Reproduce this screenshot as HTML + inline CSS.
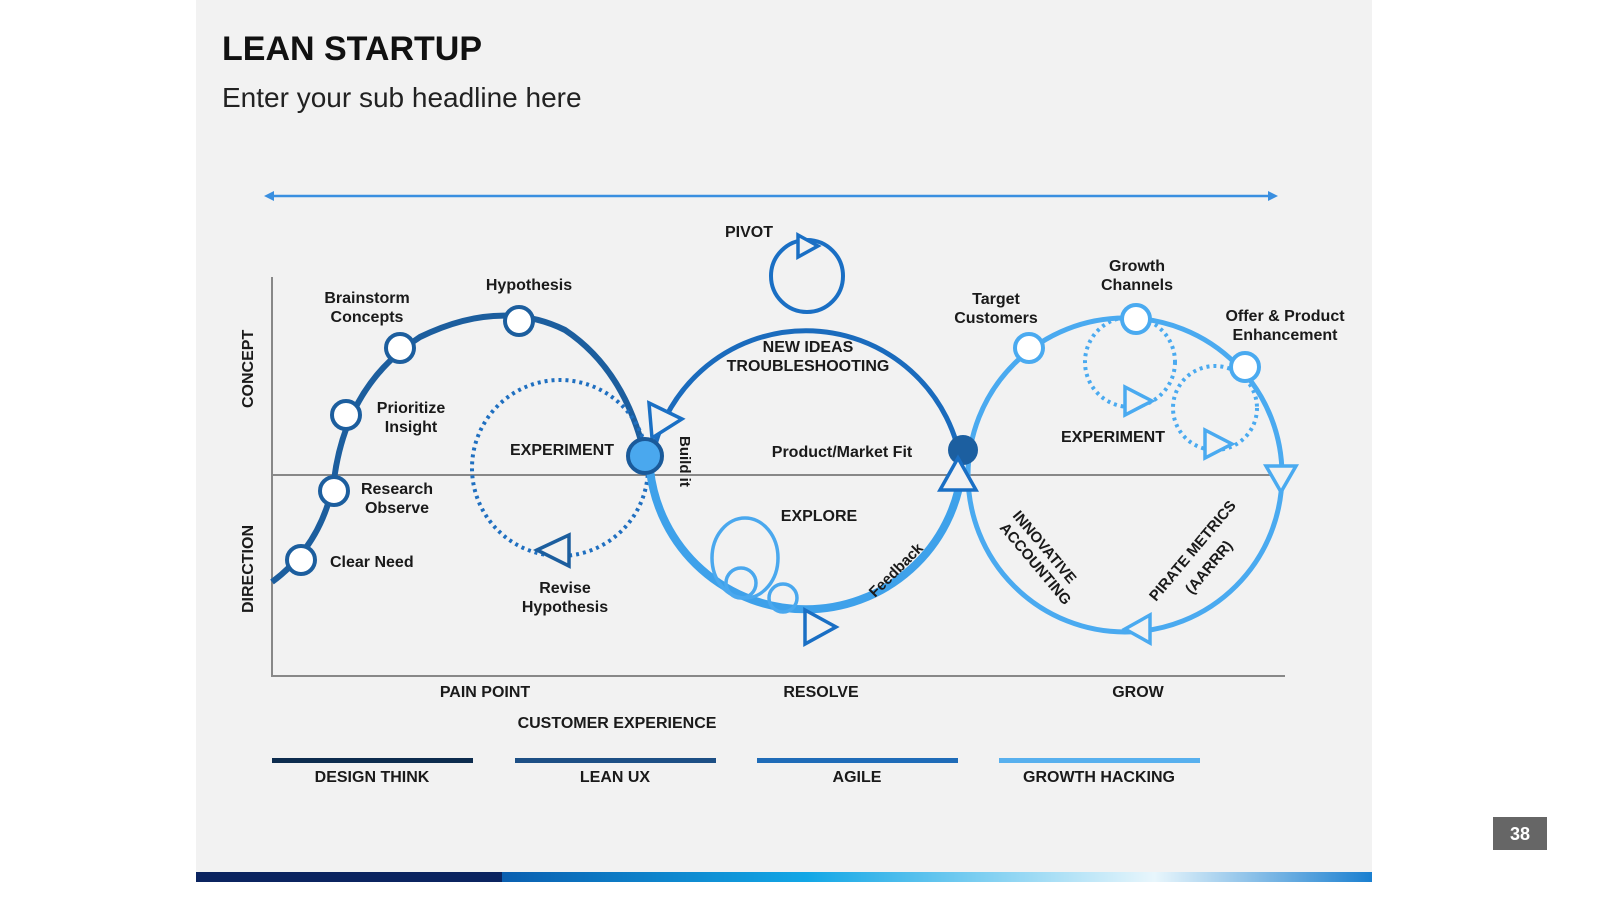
<!DOCTYPE html>
<html><head><meta charset="utf-8"><style>
body{margin:0;background:#fff;}
svg{display:block;}
text{font-family:"Liberation Sans",sans-serif;font-weight:bold;fill:#1a1a1a;}
</style></head><body>
<svg width="1600" height="900" viewBox="0 0 1600 900" xmlns="http://www.w3.org/2000/svg">
<defs>
<linearGradient id="bar" x1="0" x2="1" y1="0" y2="0">
<stop offset="0" stop-color="#0a5fb0"/><stop offset="0.35" stop-color="#12a7e6"/><stop offset="0.75" stop-color="#e8f6fc"/><stop offset="1" stop-color="#1a7fd0"/>
</linearGradient>
</defs>
<rect x="196" y="0" width="1176" height="882" fill="#f2f2f2"/>
<rect x="196" y="872" width="306" height="10" fill="#0b2460"/>
<rect x="502" y="872" width="870" height="10" fill="url(#bar)"/>
<text x="222" y="60" font-size="34" style="fill:#111">LEAN STARTUP</text>
<text x="222" y="107" font-size="28" style="font-weight:normal;fill:#222">Enter your sub headline here</text>

<line x1="268" y1="196" x2="1274" y2="196" stroke="#3a8fe0" stroke-width="2.5"/>
<polygon points="264,196 274,191 274,201" fill="#3a8fe0"/>
<polygon points="1278,196 1268,191 1268,201" fill="#3a8fe0"/>

<line x1="272" y1="277" x2="272" y2="677" stroke="#888" stroke-width="2"/>
<line x1="272" y1="676" x2="1285" y2="676" stroke="#888" stroke-width="2"/>
<line x1="272" y1="475" x2="1285" y2="475" stroke="#888" stroke-width="2"/>
<text font-size="16" transform="translate(253,408) rotate(-90)">CONCEPT</text>
<text font-size="16" transform="translate(253,613) rotate(-90)">DIRECTION</text>

<path d="M272,582 Q322,545 334,480 Q346,385 420,337 Q500,298 565,330 Q625,370 645,456" fill="none" stroke="#1c5e9e" stroke-width="6"/>
<g fill="#fff" stroke="#1c5e9e" stroke-width="4">
<circle cx="301" cy="560" r="14"/><circle cx="334" cy="491" r="14"/><circle cx="346" cy="415" r="14"/><circle cx="400" cy="348" r="14"/><circle cx="519" cy="321" r="14"/>
</g>
<text font-size="16" x="367" y="303" text-anchor="middle">Brainstorm</text>
<text font-size="16" x="367" y="322" text-anchor="middle">Concepts</text>
<text font-size="16" x="529" y="290" text-anchor="middle">Hypothesis</text>
<text font-size="16" x="411" y="413" text-anchor="middle">Prioritize</text>
<text font-size="16" x="411" y="432" text-anchor="middle">Insight</text>
<text font-size="16" x="397" y="494" text-anchor="middle">Research</text>
<text font-size="16" x="397" y="513" text-anchor="middle">Observe</text>
<text font-size="16" x="330" y="567">Clear Need</text>

<circle cx="560" cy="468" r="88" fill="none" stroke="#1f6fc0" stroke-width="4" stroke-dasharray="3 4"/>
<polygon points="537,550 569,535 569,566" fill="#f2f2f2" stroke="#1c5e9e" stroke-width="3.5"/>
<text font-size="16" x="562" y="455" text-anchor="middle">EXPERIMENT</text>
<text font-size="16" x="565" y="593" text-anchor="middle">Revise</text>
<text font-size="16" x="565" y="612" text-anchor="middle">Hypothesis</text>

<!-- middle circle -->
<path d="M650,470 A157,157 0 0 0 962,470" fill="none" stroke="#3ea1ea" stroke-width="8"/>
<path d="M650,470 A157,157 0 0 1 962,470" fill="none" stroke="#1a6bbd" stroke-width="5"/>
<circle cx="807" cy="276" r="36" fill="none" stroke="#1a6fc4" stroke-width="4"/>
<polygon points="798,235 818,246 798,257" fill="#f2f2f2" stroke="#1a6fc4" stroke-width="3.5"/>
<text font-size="16" x="749" y="237" text-anchor="middle">PIVOT</text>
<text font-size="16" x="808" y="352" text-anchor="middle">NEW IDEAS</text>
<text font-size="16" x="808" y="371" text-anchor="middle">TROUBLESHOOTING</text>
<text font-size="16" x="842" y="457" text-anchor="middle">Product/Market Fit</text>
<text font-size="16" x="819" y="521" text-anchor="middle">EXPLORE</text>
<text font-size="15" transform="translate(680,436) rotate(90)">Build it</text>
<text font-size="15" transform="translate(875,598) rotate(-45)">Feedback</text>
<g fill="none" stroke="#4aa8ee" stroke-width="3.5">
<ellipse cx="745" cy="558" rx="33" ry="40"/><circle cx="741" cy="583" r="15"/><circle cx="783" cy="598" r="14"/>
</g>
<polygon points="649,403 682,419 652,438" fill="#f2f2f2" stroke="#1a6fc4" stroke-width="3.5"/>
<polygon points="805,610 836,627 805,644" fill="#f2f2f2" stroke="#1a6fc4" stroke-width="3.5"/>

<!-- right circle -->
<circle cx="1125" cy="475" r="157" fill="none" stroke="#4aaaf0" stroke-width="5"/>
<g fill="none" stroke="#4aaaf0" stroke-width="4" stroke-dasharray="3 4">
<circle cx="1130" cy="362" r="45"/>
<circle cx="1215" cy="408" r="42"/>
</g>
<g fill="#fff" stroke="#4aaaf0" stroke-width="4">
<circle cx="1029" cy="348" r="14"/><circle cx="1136" cy="319" r="14"/><circle cx="1245" cy="367" r="14"/>
</g>
<polygon points="1125,387 1152,401 1125,415" fill="#f2f2f2" stroke="#4aaaf0" stroke-width="3.5"/>
<polygon points="1205,430 1232,444 1205,458" fill="#f2f2f2" stroke="#4aaaf0" stroke-width="3.5"/>
<polygon points="1266,466 1296,466 1281,492" fill="#f2f2f2" stroke="#4aaaf0" stroke-width="3.5"/>
<polygon points="1150,615 1150,643 1125,629" fill="#f2f2f2" stroke="#4aaaf0" stroke-width="3.5"/>
<text font-size="16" x="996" y="304" text-anchor="middle">Target</text>
<text font-size="16" x="996" y="323" text-anchor="middle">Customers</text>
<text font-size="16" x="1137" y="271" text-anchor="middle">Growth</text>
<text font-size="16" x="1137" y="290" text-anchor="middle">Channels</text>
<text font-size="16" x="1285" y="321" text-anchor="middle">Offer &amp; Product</text>
<text font-size="16" x="1285" y="340" text-anchor="middle">Enhancement</text>
<text font-size="16" x="1113" y="442" text-anchor="middle">EXPERIMENT</text>
<text font-size="15" transform="translate(1012,516) rotate(50)">INNOVATIVE</text>
<text font-size="15" transform="translate(999,528) rotate(50)">ACCOUNTING</text>
<text font-size="15" transform="translate(1156,602) rotate(-50)">PIRATE METRICS</text>
<text font-size="15" transform="translate(1192,595) rotate(-50)">(AARRR)</text>

<circle cx="963" cy="450" r="15" fill="#1c5fa0"/>
<polygon points="958,458 940,490 976,490" fill="#f2f2f2" stroke="#1a6fc4" stroke-width="3.5"/>
<circle cx="645" cy="456" r="17" fill="#4aa8ee" stroke="#1a5a9a" stroke-width="4"/>

<text font-size="16" x="485" y="697" text-anchor="middle">PAIN POINT</text>
<text font-size="16" x="821" y="697" text-anchor="middle">RESOLVE</text>
<text font-size="16" x="1138" y="697" text-anchor="middle">GROW</text>
<text font-size="16" x="617" y="728" text-anchor="middle">CUSTOMER EXPERIENCE</text>

<rect x="272" y="758" width="201" height="5" fill="#0d2c4e"/>
<rect x="515" y="758" width="201" height="5" fill="#1d4f85"/>
<rect x="757" y="758" width="201" height="5" fill="#1f6cb8"/>
<rect x="999" y="758" width="201" height="5" fill="#58b0ee"/>
<text font-size="16" x="372" y="782" text-anchor="middle">DESIGN THINK</text>
<text font-size="16" x="615" y="782" text-anchor="middle">LEAN UX</text>
<text font-size="16" x="857" y="782" text-anchor="middle">AGILE</text>
<text font-size="16" x="1099" y="782" text-anchor="middle">GROWTH HACKING</text>

<rect x="1493" y="817" width="54" height="33" fill="#666"/>
<text font-size="18" x="1520" y="840" text-anchor="middle" style="fill:#fff">38</text>
</svg>
</body></html>
